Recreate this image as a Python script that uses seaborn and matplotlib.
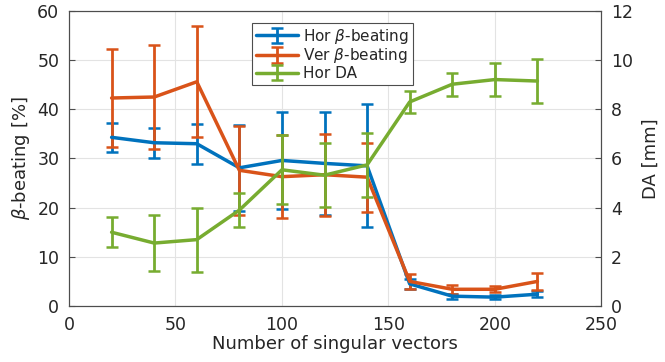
import numpy as np
import pandas as pd
import matplotlib
matplotlib.use("Agg")
import matplotlib.pyplot as plt
import seaborn as sns

n_vec = [20, 40, 60, 80, 100, 120, 140, 160, 180, 200, 220]
hor_beta = [34.3, 33.2, 33.0, 28.1, 29.6, 29.0, 28.5, 4.5, 2.0, 1.8, 2.4]
hor_beta_err = [3.0, 3.0, 4.1, 8.7, 9.8, 10.5, 12.5, 1.0, 0.5, 0.4, 0.6]
ver_beta = [42.3, 42.5, 45.6, 27.6, 26.3, 26.7, 26.2, 5.0, 3.4, 3.4, 5.0]
ver_beta_err = [10.0, 10.6, 11.3, 9.0, 8.4, 8.3, 7.0, 1.6, 0.9, 0.6, 1.7]
hor_da = [3.0, 2.56, 2.7, 3.9, 5.54, 5.32, 5.74, 8.3, 9.02, 9.21, 9.15]
hor_da_err = [0.62, 1.14, 1.3, 0.7, 1.4, 1.3, 1.3, 0.43, 0.47, 0.67, 0.88]

df = pd.DataFrame({"n": n_vec, "hb": hor_beta, "hbe": hor_beta_err,
                   "vb": ver_beta, "vbe": ver_beta_err,
                   "da": hor_da, "dae": hor_da_err})

sns.set_style("whitegrid")
plt.rcParams['font.family'] = ['DejaVu Sans']
plt.rcParams['font.size'] = 12

blue = "#0072BD"
orange = "#D95319"
green = "#77AC30"

fig = plt.figure(figsize=(6.65, 3.62), dpi=100)
ax = fig.add_axes([0.1038, 0.1547, 0.8004, 0.815])
ax2 = ax.twinx()

kw = dict(lw=2.5, elinewidth=2.0, capsize=4, capthick=1.8)
h1 = ax.errorbar(df["n"], df["hb"], yerr=df["hbe"], color=blue, label=r"Hor $\beta$-beating", **kw)
h2 = ax.errorbar(df["n"], df["vb"], yerr=df["vbe"], color=orange, label=r"Ver $\beta$-beating", **kw)
h3 = ax2.errorbar(df["n"], df["da"], yerr=df["dae"], color=green, label="Hor DA", **kw)

ax.set_xlim(0, 250)
ax.set_ylim(0, 60)
ax2.set_ylim(0, 12)
ax.set_xticks([0, 50, 100, 150, 200, 250])
ax.set_yticks([0, 10, 20, 30, 40, 50, 60])
ax2.set_yticks([0, 2, 4, 6, 8, 10, 12])
ax2.grid(False)
ax.grid(True, color="#e3e3e3", lw=0.8)

for a in (ax, ax2):
    for s in a.spines.values():
        s.set_color("#4d4d4d")
        s.set_linewidth(0.8)
    a.tick_params(direction="in", length=4, color="#4d4d4d", labelsize=12.5)
ax.tick_params(axis="x", top=False, pad=7)
ax.tick_params(axis="y", pad=7)
ax2.tick_params(axis="y", pad=7)
ax.set_xlabel("Number of singular vectors", fontsize=13, labelpad=1)
ax.set_ylabel(r"$\beta$-beating [%]", fontsize=13, labelpad=4)
ax2.set_ylabel("DA [mm]", fontsize=13, labelpad=6)

leg = ax2.legend(handles=[h1, h2, h3], loc="upper left", bbox_to_anchor=(0.3435, 0.96),
                 fontsize=11, frameon=True, fancybox=False, framealpha=1,
                 edgecolor="#4d4d4d", borderpad=0.25, labelspacing=0.05,
                 handlelength=2.8, handletextpad=0.3, borderaxespad=0)
leg.get_frame().set_linewidth(0.8)

fig.savefig("out.png", dpi=100)
